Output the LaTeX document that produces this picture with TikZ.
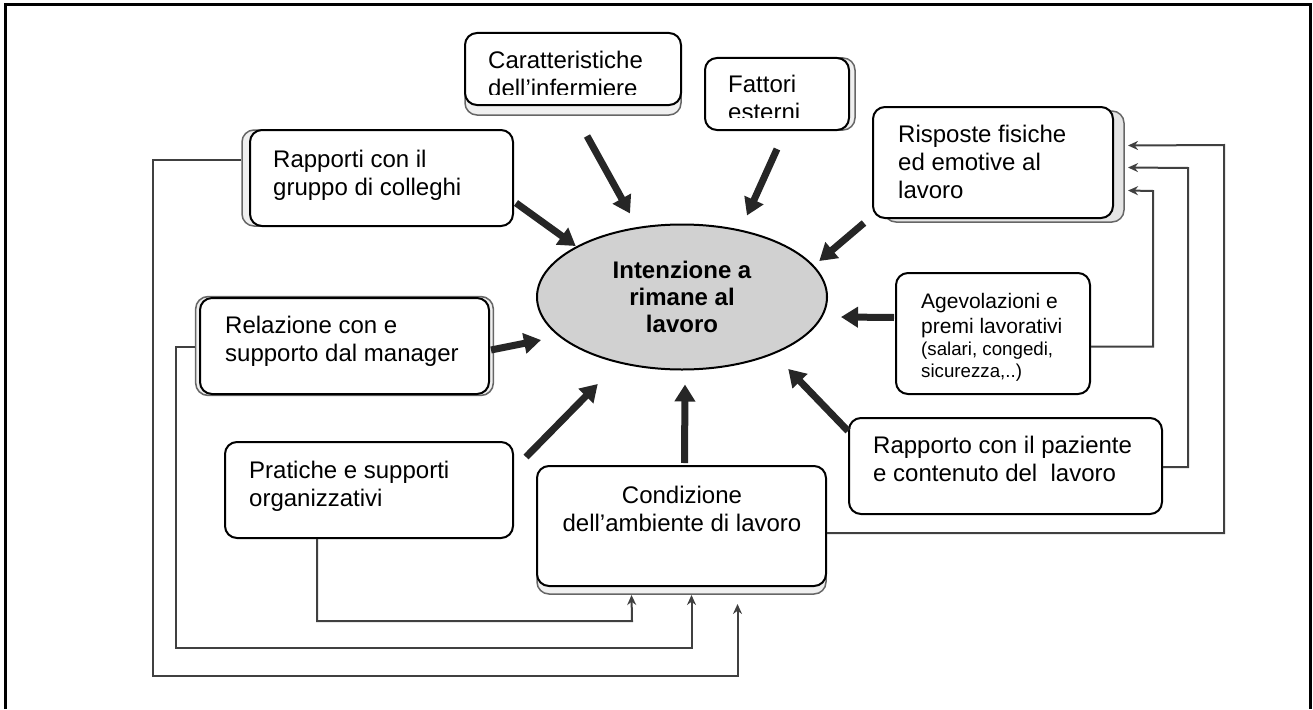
\documentclass[tikz,border=0pt]{standalone}
\usepackage{fontspec}
\setmainfont{Liberation Sans}
\usetikzlibrary{arrows.meta,shapes.geometric,shadows}

\tikzset{
	box/.style={draw, line width=2pt, rounded corners=12pt, fill=white},
	boxshadow/.style={general shadow={draw=black!60, fill=black!6, line width=1.5pt, #1}},
	txt/.style={inner sep=0pt, anchor=base west, align=left, font=\fontsize{24}{28}\selectfont},
	bigarrow/.style={line width=7pt, black!85, -{Triangle[length=17pt,width=20pt]}},
	link/.style={line width=2pt, black!75, -{Stealth[length=10pt,width=9pt]}},
}

\begin{document}
\begin{tikzpicture}[x=1pt,y=-1pt]
			\useasboundingbox (0,0) rectangle (1313,709);
			%%%%% FRAME %%%%%
			\draw[line width=3pt] (5,709) -- (5,5) -- (1310,5) -- (1310,709);
			
			%%%%% BOXES %%%%%
			\node[box, boxshadow={shadow yshift=-10pt}, minimum width=216pt, minimum height=72pt] (carat) at (573,69) {};
			\node[box, boxshadow={shadow xshift=6pt}, minimum width=144pt, minimum height=72pt] (fatt) at (777,94) {};
			\node[box, boxshadow={shadow xshift=11pt, shadow yshift=-4pt, fill=black!10}, minimum width=240pt, minimum height=111pt] (risp) at (993,162.5) {};
			\node[box, boxshadow={shadow xshift=-8pt}, minimum width=263pt, minimum height=96pt] (grup) at (381.5,178) {};
			\node[box, boxshadow={shadow scale=1.03}, minimum width=289pt, minimum height=96pt] (rel) at (344.5,346) {};
			\node[box, minimum width=288pt, minimum height=96pt] (prat) at (369,490) {};
			\node[box, boxshadow={shadow yshift=-8pt}, minimum width=289pt, minimum height=120pt] (cond) at (681.5,526) {};
			\node[box, minimum width=194pt, minimum height=121pt] (agev) at (993,333.5) {};
			\node[box, minimum width=313pt, minimum height=96pt] (paz) at (1005.5,466) {};
			
			\node[ellipse, draw, line width=2pt, fill=black!18, minimum width=290pt, minimum height=145pt, align=center, font=\bfseries\fontsize{24}{27}\selectfont] (intent) at (682,297) {Intenzione a\\rimane al\\lavoro};
			
			%%%%% TEXTS (base = last line) %%%%%
			\begin{scope}
				\clip ([yshift=12pt]carat.south west) rectangle (carat.north east);
				\node[txt] (carattxt) at (488,96) {Caratteristiche\\dell’infermiere};
			\end{scope}
			\begin{scope}
				\clip ([yshift=14pt]fatt.south west) rectangle (fatt.north east);
				\node[txt] (fatttxt) at (728,120) {Fattori\\esterni};
			\end{scope}
			\node[txt] (risptxt) at (898,198) {Risposte fisiche\\ed emotive al\\lavoro};
			\node[txt] (gruptxt) at (273,195) {Rapporti con il\\gruppo di colleghi};
			\node[txt] (reltxt) at (225,361) {Relazione con e\\supporto dal manager};
			\node[txt] (prattxt) at (249,506) {Pratiche e supporti\\organizzativi};
			\node[txt, anchor=base, align=center] (condtxt) at (682,531) {Condizione\\dell’ambiente di lavoro};
			\node[txt, font=\fontsize{21}{25}\selectfont] (agevtxt) at (921,377) {Agevolazioni e\\premi lavorativi\\[-3pt]{\fontsize{18.7}{22}\selectfont (salari, congedi,}\\[-3pt]{\fontsize{18.7}{22}\selectfont sicurezza,..)}};
			\node[txt] (paztxt) at (873,481) {Rapporto con il paziente\\e contenuto del~ lavoro};
			
			%%%%% ARROWS %%%%%
			\draw[bigarrow] ([xshift=14pt,yshift=-30pt]carat.south) -- ([xshift=-52pt,yshift=10pt]intent.north);
			\draw[bigarrow] ([yshift=-18pt]fatt.south) -- ([xshift=65pt,yshift=8pt]intent.north);
			\draw[bigarrow] ([xshift=-8pt,yshift=-4pt]risp.south west) -- ([xshift=34pt,yshift=-16pt]intent.north east);
			\draw[bigarrow] ([xshift=2pt,yshift=-25pt]grup.east) -- ([xshift=-3pt,yshift=-1pt]intent.north west);
			\draw[bigarrow] ([xshift=1pt,yshift=-4pt]rel.east) -- ([xshift=5pt,yshift=-43pt]intent.west);
			\draw[bigarrow] ([xshift=12pt,yshift=-16pt]prat.north east) -- ([xshift=19pt,yshift=-35pt]intent.south west);
			\draw[bigarrow] ([xshift=3pt,yshift=2pt]cond.north) -- ([xshift=3pt,yshift=-14pt]intent.south);
			\draw[bigarrow] ([yshift=-14pt]paz.north west) -- ([xshift=3pt,yshift=-20pt]intent.south east);
			\draw[bigarrow] ([xshift=-1pt,yshift=16pt]agev.west) -- ([xshift=13pt,yshift=-20pt]intent.east);
			
			%%%%% FEEDBACK LINES %%%%%
			\draw[link] ([yshift=-13pt]agev.east) -| (1153,191) -- ([xshift=14pt,yshift=-28pt]risp.east);
			\draw[link] ([yshift=-1pt]paz.east) -| (1188,168) -- ([xshift=14pt,yshift=-5pt]risp.east);
			\draw[link] ([yshift=-7pt]cond.east) -| (1224,145) -- ([xshift=14pt,yshift=17pt]risp.east);
			
			\draw[link] ([xshift=-8pt,yshift=18pt]grup.west) -| (153,676) -| ([xshift=56pt,yshift=-17pt]cond.south);
			\draw[link] ([xshift=-4pt,yshift=-1pt]rel.west) -| (176,648) -| ([xshift=10pt,yshift=-8pt]cond.south);
			\draw[link] ([xshift=-52pt]prat.south) |- (632,621) -- ([xshift=-50pt,yshift=-8pt]cond.south);
		\end{tikzpicture}
\end{document}
